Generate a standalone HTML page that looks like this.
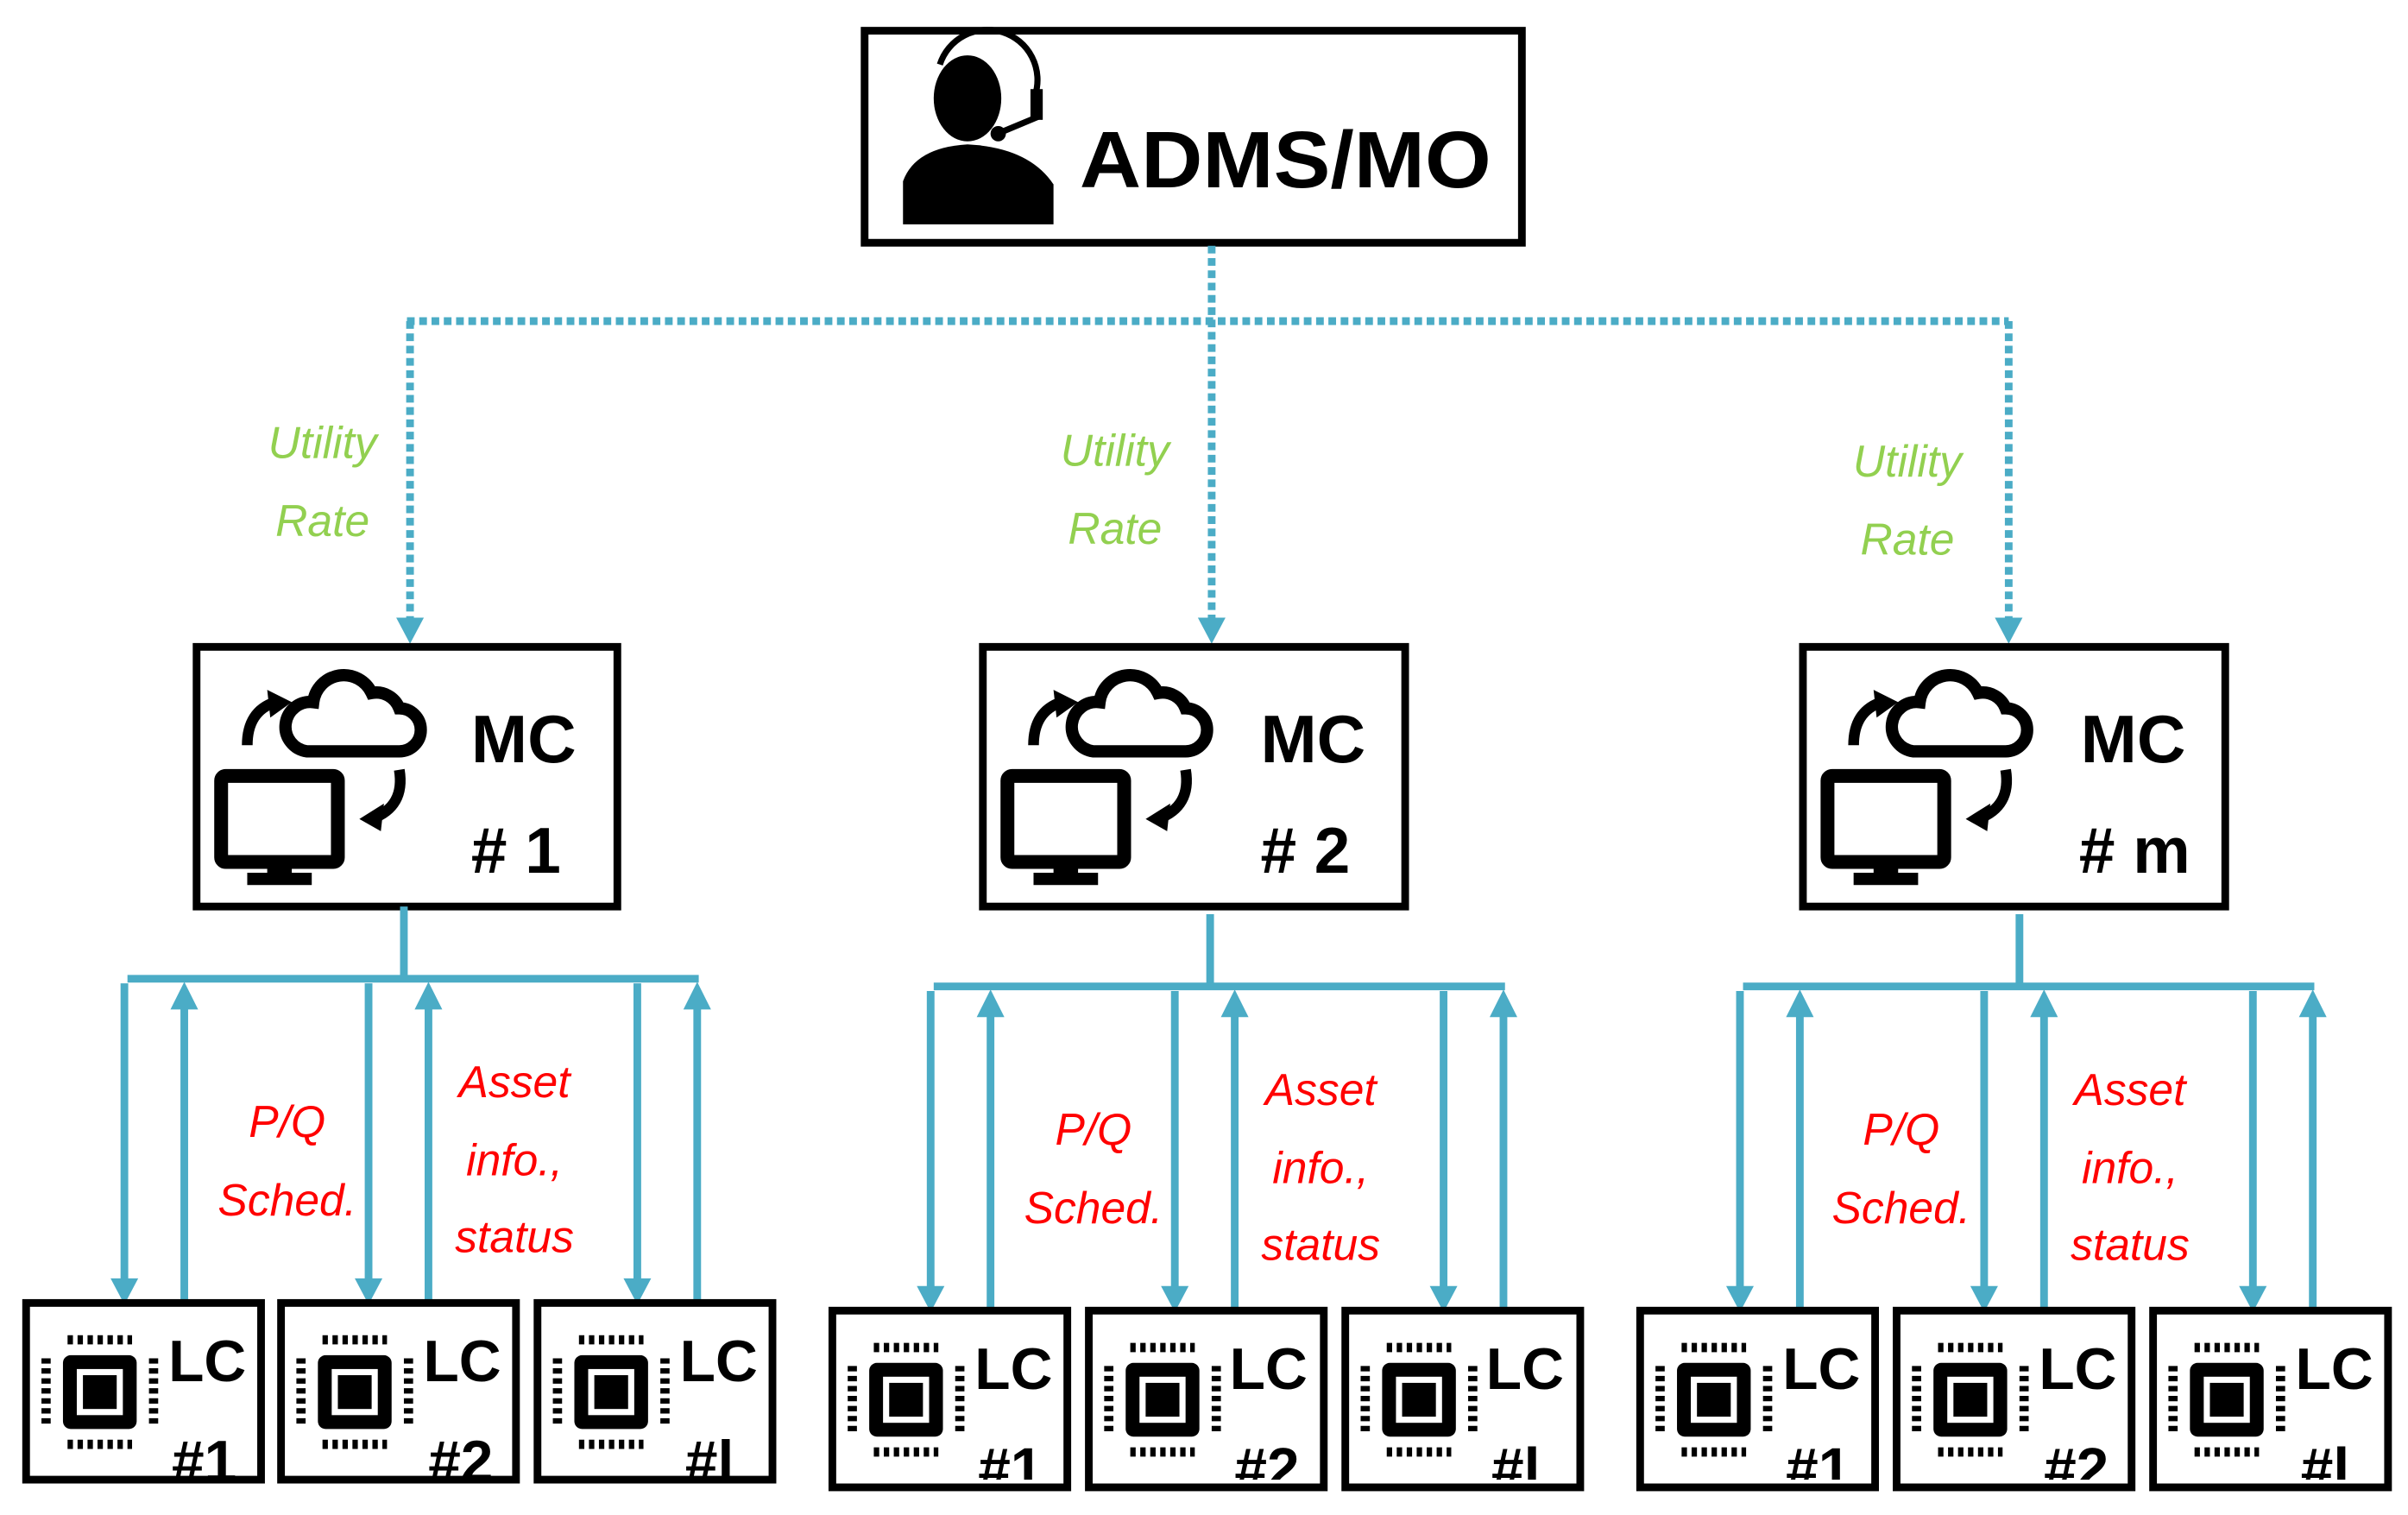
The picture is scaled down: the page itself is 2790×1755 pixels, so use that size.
<!DOCTYPE html>
<html><head><meta charset="utf-8"><style>
html,body{margin:0;padding:0;background:#fff;}
svg{display:block;}
.b{font-family:"Liberation Sans",sans-serif;font-weight:bold;fill:#000;}
.g{font-family:"Liberation Sans",sans-serif;font-style:italic;fill:#92D050;font-size:29px;text-anchor:middle;}
.r{font-family:"Liberation Sans",sans-serif;font-style:italic;fill:#FF0000;font-size:29px;text-anchor:middle;}
</style></head><body>
<svg width="2790" height="1755" viewBox="0 0 1568 986" preserveAspectRatio="none" xmlns="http://www.w3.org/2000/svg">
<defs>
<g id="chip">
  <rect x="-24" y="-24" width="48" height="48" rx="5" fill="#000"/>
  <rect x="-15" y="-15" width="30" height="30" fill="#fff"/>
  <rect x="-11" y="-11" width="22" height="22" fill="#000"/>
  <g stroke="#000" stroke-width="6" stroke-dasharray="3.5,3">
    <line x1="-21" y1="-34" x2="21" y2="-34"/><line x1="-21" y1="34" x2="21" y2="34"/>
    <line x1="-35" y1="-22" x2="-35" y2="22"/><line x1="35" y1="-22" x2="35" y2="22"/>
  </g>
</g>
<g id="mcicon">
  <path d="M72,68 h60 a14,14 0 0 0 0,-28 a16,16 0 0 0 -18,-10 a20,20 0 0 0 -38,6 a16,16 0 0 0 -4,32 z" fill="none" stroke="#000" stroke-width="8"/>
  <rect x="16" y="84" width="76" height="56" rx="3" fill="none" stroke="#000" stroke-width="9"/>
  <rect x="46" y="140" width="16" height="8" fill="#000"/><rect x="33" y="147" width="42" height="8" fill="#000"/>
  <path d="M33,64 q0,-22 18,-28" fill="none" stroke="#000" stroke-width="7"/>
  <polygon points="46,28 62,36 48,46" fill="#000"/>
  <path d="M132,80 q4,24 -18,32" fill="none" stroke="#000" stroke-width="7"/>
  <polygon points="106,112 122,102 120,120" fill="#000"/>
</g>
<g id="lc">
  <use href="#chip" x="48" y="58"/>
  <rect x="0" y="0" width="153" height="115" fill="none" stroke="#000" stroke-width="5"/>
</g>
<g id="grp">
  <g stroke="#4BACC6" stroke-width="5" fill="none">
    <line x1="263" y1="590" x2="263" y2="637"/>
    <line x1="83" y1="637" x2="455" y2="637"/>
    <line x1="81" y1="640" x2="81" y2="834"/>
    <line x1="240" y1="640" x2="240" y2="834"/>
    <line x1="415" y1="640" x2="415" y2="834"/>
    <line x1="120" y1="655" x2="120" y2="848"/>
    <line x1="279" y1="655" x2="279" y2="848"/>
    <line x1="454" y1="655" x2="454" y2="848"/>
  </g>
  <g fill="#4BACC6">
    <polygon points="72,832 90,832 81,849"/><polygon points="231,832 249,832 240,849"/><polygon points="406,832 424,832 415,849"/>
    <polygon points="111,657 129,657 120,639"/><polygon points="270,657 288,657 279,639"/><polygon points="445,657 463,657 454,639"/>
  </g>
</g>
</defs>

<!-- ADMS -->
<rect x="563" y="20" width="428" height="138" fill="#fff" stroke="#000" stroke-width="5"/>
<ellipse cx="630" cy="64" rx="22" ry="28" fill="#000"/>
<path d="M612,42 a30,30 0 0 1 62,20 v14" fill="none" stroke="#000" stroke-width="4"/>
<rect x="671" y="58" width="8" height="20" fill="#000"/>
<path d="M676,76 l-24,10" stroke="#000" stroke-width="4"/>
<circle cx="650" cy="87" r="5" fill="#000"/>
<path d="M588,146 v-28 q8,-22 42,-24 q40,2 56,26 v26 z" fill="#000"/>
<text x="703" y="122" class="b" font-size="52" textLength="268" lengthAdjust="spacingAndGlyphs">ADMS/MO</text>

<!-- dotted lines -->
<g stroke="#4BACC6" stroke-width="5" stroke-dasharray="5,3" fill="none">
  <line x1="789" y1="160" x2="789" y2="404"/>
  <line x1="265" y1="209" x2="1308" y2="209"/>
  <line x1="267" y1="209" x2="267" y2="404"/>
  <line x1="1308" y1="209" x2="1308" y2="404"/>
</g>
<g fill="#4BACC6">
  <polygon points="258,402 276,402 267,419"/>
  <polygon points="780,402 798,402 789,419"/>
  <polygon points="1299,402 1317,402 1308,419"/>
</g>
<text x="210" y="298" class="g">Utility</text><text x="210" y="349" class="g">Rate</text>
<text x="726" y="303" class="g">Utility</text><text x="726" y="354" class="g">Rate</text>
<text x="1242" y="310" class="g">Utility</text><text x="1242" y="361" class="g">Rate</text>

<!-- MC boxes -->
<rect x="128" y="421" width="274" height="169" fill="#fff" stroke="#000" stroke-width="5"/>
<use href="#mcicon" x="128" y="421"/>
<text x="341" y="496" class="b" font-size="44" text-anchor="middle">MC</text>
<text x="336" y="568" class="b" font-size="42" text-anchor="middle"># 1</text>

<rect x="640" y="421" width="275" height="169" fill="#fff" stroke="#000" stroke-width="5"/>
<use href="#mcicon" x="640" y="421"/>
<text x="855" y="496" class="b" font-size="44" text-anchor="middle">MC</text>
<text x="850" y="568" class="b" font-size="42" text-anchor="middle"># 2</text>

<rect x="1174" y="421" width="275" height="169" fill="#fff" stroke="#000" stroke-width="5"/>
<use href="#mcicon" x="1174" y="421"/>
<text x="1389" y="496" class="b" font-size="44" text-anchor="middle">MC</text>
<text x="1390" y="568" class="b" font-size="42" text-anchor="middle"># m</text>

<!-- groups -->
<use href="#grp"/>
<use href="#grp" x="525" y="5"/>
<use href="#grp" x="1052" y="5"/>

<text x="187" y="740" class="r">P/Q</text><text x="187" y="791" class="r">Sched.</text>
<text x="335" y="714" class="r">Asset</text><text x="335" y="765" class="r">info.,</text><text x="335" y="815" class="r">status</text>
<text x="712" y="745" class="r">P/Q</text><text x="712" y="796" class="r">Sched.</text>
<text x="860" y="719" class="r">Asset</text><text x="860" y="770" class="r">info.,</text><text x="860" y="820" class="r">status</text>
<text x="1238" y="745" class="r">P/Q</text><text x="1238" y="796" class="r">Sched.</text>
<text x="1387" y="719" class="r">Asset</text><text x="1387" y="770" class="r">info.,</text><text x="1387" y="820" class="r">status</text>

<!-- LC boxes -->
<g class="b" font-size="38" text-anchor="middle">
  <text x="135" y="899">LC</text><text x="133" y="964">#1</text>
  <text x="301" y="899">LC</text><text x="300" y="964">#2</text>
  <text x="468" y="899">LC</text><text x="462" y="964">#l</text>
  <text x="660" y="904">LC</text><text x="658" y="969">#1</text>
  <text x="826" y="904">LC</text><text x="825" y="969">#2</text>
  <text x="993" y="904">LC</text><text x="987" y="969">#l</text>
  <text x="1186" y="904">LC</text><text x="1184" y="969">#1</text>
  <text x="1353" y="904">LC</text><text x="1352" y="969">#2</text>
  <text x="1520" y="904">LC</text><text x="1514" y="969">#l</text>
</g>
<rect x="0" y="963" width="1568" height="30" fill="#fff"/>
<use href="#lc" x="17" y="848"/><use href="#lc" x="183" y="848"/><use href="#lc" x="350" y="848"/>
<use href="#lc" x="542" y="853"/><use href="#lc" x="709" y="853"/><use href="#lc" x="876" y="853"/>
<use href="#lc" x="1068" y="853"/><use href="#lc" x="1235" y="853"/><use href="#lc" x="1402" y="853"/>
</svg>
</body></html>
